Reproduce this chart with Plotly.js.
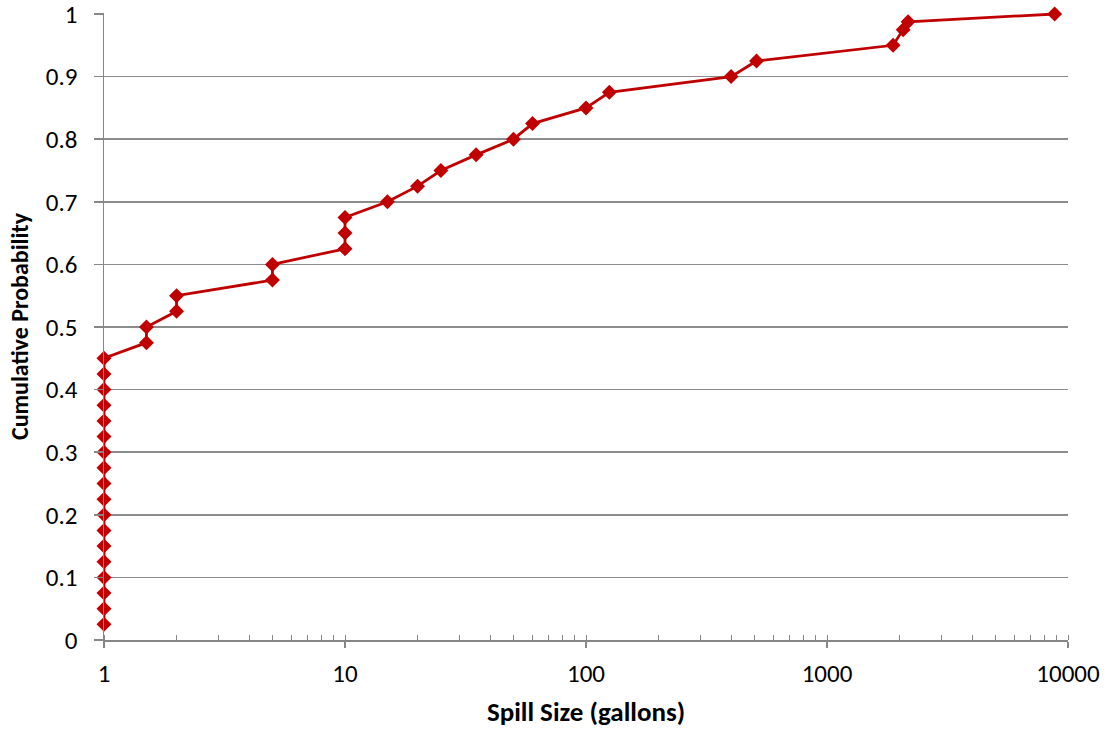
<!DOCTYPE html>
<html>
<head>
<meta charset="utf-8">
<script src="https://cdn.plot.ly/plotly-3.0.1.min.js"></script>
<style>html,body{margin:0;padding:0;background:#fff;}#chart{width:1109px;height:729px;}</style>
</head>
<body>
<div id="chart"></div>
<script>
const spillSize = [1,1,1,1,1,1,1,1,1,1,1,1,1,1,1,1,1,1,
  1.5,1.5,2,2,5,5,10,10,10,15,20,25,35,50,60,100,125,400,510,1880,2070,2170,8800];
const cumProb = [0.025,0.05,0.075,0.1,0.125,0.15,0.175,0.2,0.225,0.25,0.275,0.3,0.325,0.35,0.375,0.4,0.425,0.45,
  0.475,0.5,0.525,0.55,0.575,0.6,0.625,0.65,0.675,0.7,0.725,0.75,0.775,0.8,0.825,0.85,0.875,0.9,0.925,0.95,0.975,0.9875,1.0];
const xTickVals = [1,10,100,1000,10000];
const xTickText = ['1','10','100','1000','10000'];
const yTickVals = [0,0.1,0.2,0.3,0.4,0.5,0.6,0.7,0.8,0.9,1];
const yTickText = ['0','0.1','0.2','0.3','0.4','0.5','0.6','0.7','0.8','0.9','1'];

const font = 'Carlito, Lato, "Open Sans", sans-serif';
const trace = {
  x: spillSize, y: cumProb, type: 'scatter', mode: 'lines+markers',
  line: {color: '#C00000', width: 2.8},
  marker: {symbol: 'diamond', size: 11.5, color: '#C00000'},
  cliponaxis: false, showlegend: false, hoverinfo: 'x+y'
};
const layout = {
  width: 1109, height: 729,
  margin: {l: 104, r: 41, t: 13, b: 89},
  paper_bgcolor: '#fff', plot_bgcolor: '#fff',
  font: {family: font, size: 25, color: '#000'},
  xaxis: {
    type: 'log', range: [0, 4],
    tickvals: xTickVals, ticktext: xTickText,
    tickfont: {family: font, size: 25, color: '#000'},
    showgrid: false, zeroline: false,
    showline: true, linecolor: '#868686', linewidth: 1.5,
    ticks: 'outside', ticklen: 6, tickcolor: '#868686', tickwidth: 1.5,
    ticklabelstandoff: 4,
    minor: {ticks: 'inside', ticklen: 5, tickcolor: '#868686', tickwidth: 1, dtick: 'D1', showgrid: false},
    title: {text: '<b>Spill Size (gallons)</b>', font: {family: font, size: 27}, standoff: 14}
  },
  yaxis: {
    range: [0, 1.0016],
    tickvals: yTickVals, ticktext: yTickText,
    tickfont: {family: font, size: 25, color: '#000'},
    ticklabeloverflow: 'allow',
    showgrid: true, gridcolor: '#8c8c8c', gridwidth: 1.5,
    zeroline: false,
    showline: true, linecolor: '#868686', linewidth: 1.5,
    ticks: 'outside', ticklen: 9, tickcolor: '#868686', tickwidth: 1.5,
    ticklabelstandoff: 11,
    title: {text: '<b>Cumulative Probability</b>', font: {family: font, size: 24}, standoff: 10}
  }
};
Plotly.newPlot('chart', [trace], layout, {displayModeBar: false, staticPlot: true});
</script>
</body>
</html>
